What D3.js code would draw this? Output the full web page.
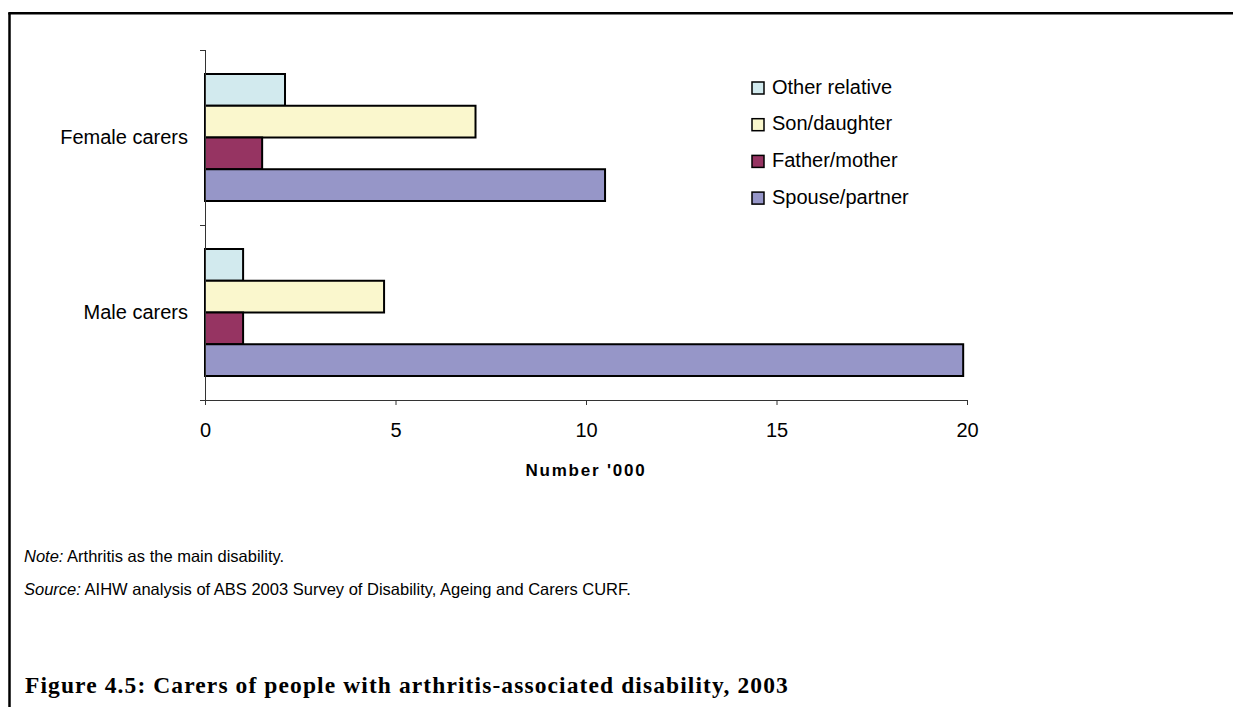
<!DOCTYPE html>
<html>
<head>
<meta charset="utf-8">
<script src="https://cdn.jsdelivr.net/npm/d3@7"></script>
<style>
  html, body { margin: 0; padding: 0; background: #fff; }
  svg { display: block; }
  text { fill: #000; }
</style>
</head>
<body>
<svg id="chart" width="1233" height="707"></svg>
<script>
// Carers by relationship to the person with arthritis, thousands
const categories = ["Female carers", "Male carers"];
const seriesNames = ["Other relative", "Son/daughter", "Father/mother", "Spouse/partner"];
const otherRelative = [2.1, 1.0];
const sonDaughter   = [7.1, 4.7];
const fatherMother  = [1.5, 1.0];
const spousePartner = [10.5, 19.9];
const xTicks = [0, 5, 10, 15, 20];

const seriesValues = [otherRelative, sonDaughter, fatherMother, spousePartner];
const colors = ["#D2EAEE", "#FAF7CD", "#963462", "#9696C8"];
const sans = "'Liberation Sans', Arial, sans-serif";
const serif = "'Liberation Serif', 'Times New Roman', serif";

const svg = d3.select("#chart").style("font-family", sans);

// Frame: left and top rules
svg.append("line").attr("x1", 9.5).attr("x2", 9.5).attr("y1", 13).attr("y2", 707)
  .attr("stroke", "#000").attr("stroke-width", 2.5);
svg.append("line").attr("x1", 8.25).attr("x2", 1233).attr("y1", 13.25).attr("y2", 13.25)
  .attr("stroke", "#000").attr("stroke-width", 2.5);

const x = d3.scaleLinear().domain([0, 20]).range([205, 967]);
const y = d3.scaleBand().domain(categories).range([50, 400]).paddingInner(0).paddingOuter(0);
const ySub = d3.scaleBand().domain(seriesNames).range([0, y.bandwidth()])
  .paddingInner(0).paddingOuter(0.756);

// Bars
const rows = [];
categories.forEach((c, ci) => {
  seriesNames.forEach((s, si) => {
    rows.push({ cat: c, series: s, value: seriesValues[si][ci], color: colors[si] });
  });
});

svg.append("g").selectAll("rect").data(rows).join("rect")
  .attr("x", x(0))
  .attr("y", d => y(d.cat) + ySub(d.series))
  .attr("width", d => x(d.value) - x(0))
  .attr("height", ySub.bandwidth())
  .attr("fill", d => d.color)
  .attr("stroke", "#000")
  .attr("stroke-width", 2);

// X axis
const xAxis = svg.append("g").attr("transform", `translate(0,${y.range()[1]})`)
  .call(d3.axisBottom(x).tickValues(xTicks).tickSize(5).tickPadding(18).tickSizeOuter(0));
xAxis.select(".domain").attr("stroke", "#333");
xAxis.selectAll(".tick line").attr("stroke", "#333");
xAxis.selectAll(".tick text").style("font-family", sans).attr("font-size", 20).attr("fill", "#000");

// Y axis: category labels centred in each band, ticks on band boundaries
const yAxis = svg.append("g").attr("transform", `translate(${x(0)},0)`)
  .call(d3.axisLeft(y).tickSize(0).tickPadding(17));
yAxis.select(".domain").remove();
yAxis.selectAll(".tick text").style("font-family", sans).attr("font-size", 20).attr("fill", "#000");

const bounds = [y(categories[0])].concat(categories.map(c => y(c) + y.bandwidth()));
svg.append("line").attr("x1", x(0) + 0.5).attr("x2", x(0) + 0.5)
  .attr("y1", bounds[0]).attr("y2", bounds[bounds.length - 1]).attr("stroke", "#333");
svg.append("g").selectAll("line").data(bounds).join("line")
  .attr("x1", x(0) - 5).attr("x2", x(0)).attr("y1", d => d + 0.5).attr("y2", d => d + 0.5)
  .attr("stroke", "#333");

// Axis title
svg.append("text").attr("x", (x.range()[0] + x.range()[1]) / 2).attr("y", 476)
  .attr("text-anchor", "middle").attr("font-size", 17).attr("font-weight", "bold")
  .attr("letter-spacing", 1.8)
  .text("Number '000");

// Legend
const legend = svg.append("g").attr("transform", "translate(752,82)");
const li = legend.selectAll("g").data(seriesNames).join("g")
  .attr("transform", (d, i) => `translate(0,${i * 36.7})`);
li.append("rect").attr("width", 12).attr("height", 12)
  .attr("fill", (d, i) => colors[i]).attr("stroke", "#000").attr("stroke-width", 1.5);
li.append("text").attr("x", 20).attr("y", 11.5).attr("font-size", 20).text(d => d);

// Notes
const note = svg.append("text").attr("x", 24).attr("y", 562).attr("font-size", 16.5);
note.append("tspan").attr("font-style", "italic").text("Note:");
note.append("tspan").text(" Arthritis as the main disability.");
const src = svg.append("text").attr("x", 24).attr("y", 595).attr("font-size", 16.5);
src.append("tspan").attr("font-style", "italic").text("Source:");
src.append("tspan").text(" AIHW analysis of ABS 2003 Survey of Disability, Ageing and Carers CURF.");

// Figure caption
svg.append("text").attr("x", 25).attr("y", 693)
  .style("font-family", serif)
  .attr("font-size", 23.5).attr("font-weight", "bold")
  .attr("letter-spacing", 1.1)
  .text("Figure 4.5: Carers of people with arthritis-associated disability, 2003");
</script>
</body>
</html>
